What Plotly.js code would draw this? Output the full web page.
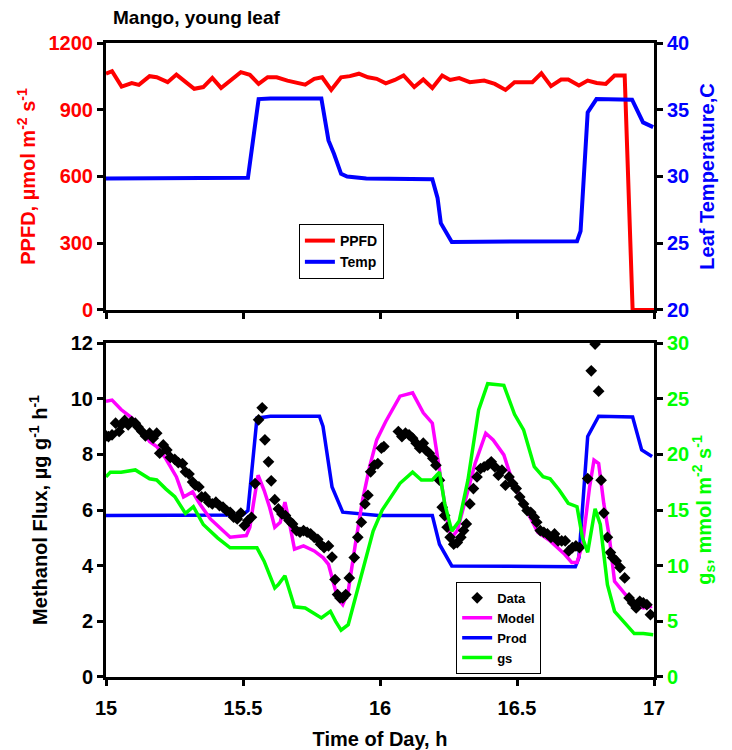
<!DOCTYPE html>
<html>
<head>
<meta charset="utf-8">
<script src="https://cdn.plot.ly/plotly-3.0.1.min.js"></script>
<style>html,body{margin:0;padding:0;background:#fff;}#chart{width:732px;height:750px;}</style>
</head>
<body>
<div id="chart"></div>
<script>
// ---- Top panel data ----
const ppfdTime = [15.000,15.022,15.057,15.094,15.120,15.159,15.185,15.225,15.257,15.290,15.322,15.355,15.388,15.420,15.460,15.492,15.525,15.557,15.590,15.623,15.662,15.695,15.727,15.760,15.789,15.822,15.858,15.890,15.923,15.956,15.988,16.021,16.054,16.086,16.125,16.158,16.191,16.227,16.256,16.289,16.328,16.380,16.419,16.458,16.491,16.556,16.589,16.624,16.661,16.687,16.726,16.758,16.791,16.824,16.856,16.893,16.922,17.000];
const ppfdValues = [1062,1073,1004,1020,1012,1051,1046,1024,1058,1024,994,1002,1043,998,1039,1069,1057,1016,1046,1046,1031,1024,1013,1039,1046,989,1046,1051,1062,1046,1039,1019,1034,1054,1002,1036,998,1054,1034,1042,1024,1031,1016,989,1024,1024,1064,1006,1036,1036,1009,1031,1020,1016,1054,1054,0,0];

const tempTime = [15.000,15.100,15.200,15.300,15.400,15.518,15.557,15.600,15.700,15.786,15.812,15.832,15.858,15.880,15.950,16.050,16.191,16.210,16.222,16.262,16.400,16.600,16.719,16.732,16.758,16.790,16.850,16.920,16.960,16.997];
const tempValues = [29.84,29.85,29.83,29.85,29.85,29.9,35.8,35.85,35.85,35.85,32.7,31.7,30.2,30.0,29.85,29.8,29.8,28.4,26.5,25.1,25.1,25.1,25.15,25.9,34.8,35.8,35.8,35.75,34.05,33.7];

// ---- Bottom panel data ----
const dataTime = [15.000,15.009,15.022,15.035,15.048,15.057,15.068,15.081,15.094,15.107,15.117,15.131,15.144,15.159,15.172,15.185,15.196,15.209,15.222,15.235,15.251,15.264,15.279,15.290,15.303,15.316,15.326,15.339,15.349,15.362,15.375,15.388,15.401,15.414,15.427,15.440,15.453,15.466,15.479,15.492,15.505,15.518,15.531,15.544,15.557,15.570,15.580,15.593,15.603,15.616,15.629,15.642,15.655,15.668,15.681,15.695,15.708,15.721,15.734,15.747,15.760,15.773,15.783,15.796,15.812,15.825,15.836,15.845,15.854,15.864,15.875,15.888,15.906,15.919,15.932,15.945,15.956,15.966,15.979,15.992,16.005,16.014,16.067,16.080,16.093,16.106,16.119,16.132,16.145,16.158,16.167,16.180,16.193,16.204,16.217,16.227,16.236,16.245,16.256,16.269,16.282,16.295,16.305,16.315,16.328,16.341,16.354,16.367,16.380,16.393,16.406,16.419,16.432,16.445,16.458,16.471,16.484,16.497,16.510,16.524,16.537,16.550,16.563,16.572,16.585,16.598,16.611,16.624,16.637,16.650,16.663,16.676,16.689,16.702,16.715,16.728,16.758,16.771,16.785,16.798,16.807,16.817,16.830,16.841,16.849,16.862,16.876,16.893,16.909,16.922,16.935,16.948,16.961,16.974,16.987];
const dataValues = [8.66,8.64,8.70,9.12,8.82,9.06,9.22,9.06,9.18,9.12,8.98,8.82,8.66,8.76,8.58,8.76,8.04,8.34,8.16,7.89,7.82,7.70,7.67,7.37,7.29,7.01,6.89,6.83,6.47,6.47,6.28,6.22,6.28,6.16,6.10,5.98,5.92,5.74,5.68,5.89,5.44,5.62,5.74,6.95,9.24,9.67,8.52,7.73,7.05,6.37,6.04,5.86,5.80,5.62,5.50,5.26,5.20,5.26,5.20,5.14,5.02,4.95,4.77,4.65,4.71,4.31,3.50,2.96,2.84,2.84,2.96,3.56,4.29,5.02,5.56,6.22,6.53,7.37,7.61,7.67,8.22,8.28,8.82,8.64,8.76,8.70,8.58,8.40,8.22,8.40,8.16,8.04,7.85,7.61,7.07,6.10,5.80,5.38,5.02,4.77,4.83,5.02,5.26,5.50,6.22,6.77,7.19,7.49,7.55,7.61,7.73,7.55,7.25,7.43,6.89,7.19,6.95,6.77,6.47,6.22,5.98,5.92,5.74,5.56,5.26,5.20,5.14,5.02,5.14,4.89,4.89,4.89,4.53,4.65,4.71,4.65,7.13,11.0,11.96,10.27,7.07,5.89,5.02,4.47,4.29,4.17,3.93,3.56,2.84,2.66,2.48,2.72,2.66,2.60,2.24];

const modelTime = [15.000,15.022,15.055,15.094,15.133,15.159,15.185,15.218,15.257,15.283,15.316,15.342,15.381,15.420,15.453,15.512,15.525,15.538,15.555,15.577,15.597,15.616,15.636,15.653,15.668,15.688,15.721,15.760,15.792,15.812,15.832,15.845,15.864,15.884,15.910,15.936,15.962,15.988,16.021,16.073,16.119,16.138,16.158,16.191,16.210,16.230,16.249,16.262,16.282,16.308,16.347,16.386,16.413,16.452,16.478,16.510,16.543,16.576,16.621,16.674,16.700,16.719,16.739,16.765,16.781,16.798,16.817,16.837,16.856,16.896,16.935,16.961,16.993];
const modelValues = [9.91,9.95,9.61,9.31,8.88,8.46,8.28,7.85,7.19,6.47,6.65,6.22,5.68,5.32,5.02,5.08,5.38,6.22,7.25,6.71,6.10,5.38,5.56,6.28,5.62,4.59,4.71,4.53,4.29,4.05,3.32,2.84,2.60,3.08,4.77,6.34,7.55,8.52,9.18,10.09,10.21,9.85,9.49,9.12,7.92,6.47,5.38,5.02,5.26,6.22,7.67,8.76,8.52,7.98,7.19,6.47,5.80,5.20,4.89,4.41,4.11,4.11,4.77,6.83,7.79,7.67,6.22,5.02,3.44,2.96,2.60,2.48,2.54];

const prodTime = [15.000,15.200,15.400,15.499,15.518,15.551,15.600,15.700,15.779,15.792,15.825,15.864,15.995,16.191,16.217,16.262,16.500,16.713,16.726,16.758,16.798,16.922,16.955,16.993];
const prodValues = [5.80,5.80,5.80,5.82,5.98,9.30,9.37,9.37,9.37,9.00,6.83,5.92,5.80,5.80,4.77,3.99,3.97,3.96,4.29,8.64,9.37,9.34,8.16,7.92];

const gsTime = [15.000,15.016,15.055,15.107,15.159,15.185,15.218,15.251,15.290,15.319,15.355,15.407,15.453,15.551,15.577,15.616,15.629,15.653,15.688,15.727,15.786,15.819,15.838,15.858,15.884,15.910,15.943,15.975,16.008,16.040,16.073,16.119,16.151,16.191,16.217,16.236,16.262,16.289,16.321,16.360,16.393,16.452,16.491,16.524,16.563,16.595,16.621,16.654,16.687,16.719,16.739,16.758,16.785,16.804,16.830,16.856,16.896,16.928,16.961,16.997];
const gsValues = [17.97,18.4,18.4,18.6,17.8,17.7,16.9,16.2,14.7,15.3,13.7,12.5,11.6,11.6,10.4,8.0,8.3,9.1,6.3,6.2,5.3,5.9,5.0,4.2,4.7,7.1,10.1,13.1,15.0,16.2,17.4,18.4,17.7,17.7,18.4,15.6,13.1,14.0,17.7,24.0,26.35,26.2,23.6,22.2,18.9,18.0,17.8,16.8,15.6,15.3,12.5,11.2,15.1,13.7,8.3,5.9,4.8,3.9,3.9,3.8];

const xTickVals = [15, 15.5, 16, 16.5, 17];
const xTickText = ['15', '15.5', '16', '16.5', '17'];

const RED = '#ff0000', BLUE = '#0000ff', MAG = '#ff00ff', GREEN = '#00ff00';
const FONT = 'Liberation Sans, Arial, Helvetica, sans-serif';

const traces = [
  {x: ppfdTime, y: ppfdValues, name: 'PPFD', type: 'scatter', mode: 'lines',
   line: {color: RED, width: 4}, xaxis: 'x', yaxis: 'y', legend: 'legend'},
  {x: tempTime, y: tempValues, name: 'Temp', type: 'scatter', mode: 'lines',
   line: {color: BLUE, width: 4}, xaxis: 'x', yaxis: 'y2', legend: 'legend'},
  {x: prodTime, y: prodValues, name: 'Prod', type: 'scatter', mode: 'lines',
   line: {color: BLUE, width: 3.5}, xaxis: 'x2', yaxis: 'y3', legend: 'legend2', legendrank: 3},
  {x: gsTime, y: gsValues, name: 'gs', type: 'scatter', mode: 'lines',
   line: {color: GREEN, width: 3.5}, xaxis: 'x2', yaxis: 'y4', legend: 'legend2', legendrank: 4},
  {x: modelTime, y: modelValues, name: 'Model', type: 'scatter', mode: 'lines',
   line: {color: MAG, width: 3.5}, xaxis: 'x2', yaxis: 'y3', legend: 'legend2', legendrank: 2},
  {x: dataTime, y: dataValues, name: 'Data', type: 'scatter', mode: 'markers',
   marker: {symbol: 'diamond', size: 9, color: '#000'}, xaxis: 'x2', yaxis: 'y3', legend: 'legend2', legendrank: 1}
];

const axisBase = {
  showline: true, linecolor: '#000', linewidth: 3,
  ticks: 'outside', ticklen: 6, tickwidth: 3, tickcolor: '#000',
  showgrid: false, zeroline: false, fixedrange: true
};
const tickFont = (c) => ({family: FONT, size: 20, color: c, weight: 'bold'});
const titleFont = (c) => ({family: FONT, size: 20, color: c, weight: 'bold'});

const layout = {
  width: 732, height: 750,
  margin: {l: 106, r: 78, t: 43, b: 73},
  paper_bgcolor: '#fff', plot_bgcolor: '#fff',
  font: {family: FONT},
  showlegend: true,
  xaxis: Object.assign({}, axisBase, {
    domain: [0, 1], anchor: 'y', range: [15, 17], tickvals: xTickVals,
    showticklabels: false, mirror: true
  }),
  yaxis: Object.assign({}, axisBase, {
    domain: [0.5789, 1], anchor: 'x', range: [0, 1200], dtick: 300,
    tickfont: tickFont(RED),
    title: {text: 'PPFD, µmol m<sup>-2</sup> s<sup>-1</sup>', font: titleFont(RED), standoff: 8}
  }),
  yaxis2: Object.assign({}, axisBase, {
    overlaying: 'y', side: 'right', anchor: 'x', range: [20, 40], dtick: 5,
    tickfont: tickFont(BLUE),
    title: {text: 'Leaf Temperature,C', font: titleFont(BLUE), standoff: 12}
  }),
  xaxis2: Object.assign({}, axisBase, {
    domain: [0, 1], anchor: 'y3', range: [15, 17], tickvals: xTickVals, ticktext: xTickText,
    mirror: true, tickfont: tickFont('#000'), ticklabelstandoff: 5,
    title: {text: 'Time of Day, h', font: titleFont('#000'), standoff: 14}
  }),
  yaxis3: Object.assign({}, axisBase, {
    domain: [0, 0.5268], anchor: 'x2', range: [0, 12], dtick: 2,
    tickfont: tickFont('#000'),
    title: {text: 'Methanol Flux, µg g<sup>-1</sup> h<sup>-1</sup>', font: titleFont('#000'), standoff: 18}
  }),
  yaxis4: Object.assign({}, axisBase, {
    overlaying: 'y3', side: 'right', anchor: 'x2', range: [0, 30], dtick: 5,
    tickfont: tickFont(GREEN),
    title: {text: 'g<sub>s</sub>, mmol m<sup>-2</sup> s<sup>-1</sup>', font: titleFont(GREEN), standoff: 9}
  }),
  legend: {
    x: 0.352, y: 0.7145, xanchor: 'left', yanchor: 'top',
    bgcolor: '#fff', bordercolor: '#000', borderwidth: 1,
    font: {family: FONT, size: 14, color: '#000', weight: 'bold'},
    tracegroupgap: 0, itemwidth: 30
  },
  legend2: {
    x: 0.639, y: 0.15, xanchor: 'left', yanchor: 'top',
    bgcolor: '#fff', bordercolor: '#000', borderwidth: 1,
    font: {family: FONT, size: 13, color: '#000', weight: 'bold'},
    tracegroupgap: 0, itemwidth: 30
  },
  annotations: [{
    text: 'Mango, young leaf', xref: 'paper', yref: 'paper',
    x: 0.009, y: 1.040, xanchor: 'left', yanchor: 'middle', showarrow: false,
    font: {family: FONT, size: 19, color: '#000', weight: 'bold'}
  }]
};

Plotly.newPlot('chart', traces, layout, {displayModeBar: false, staticPlot: true});
</script>
</body>
</html>
